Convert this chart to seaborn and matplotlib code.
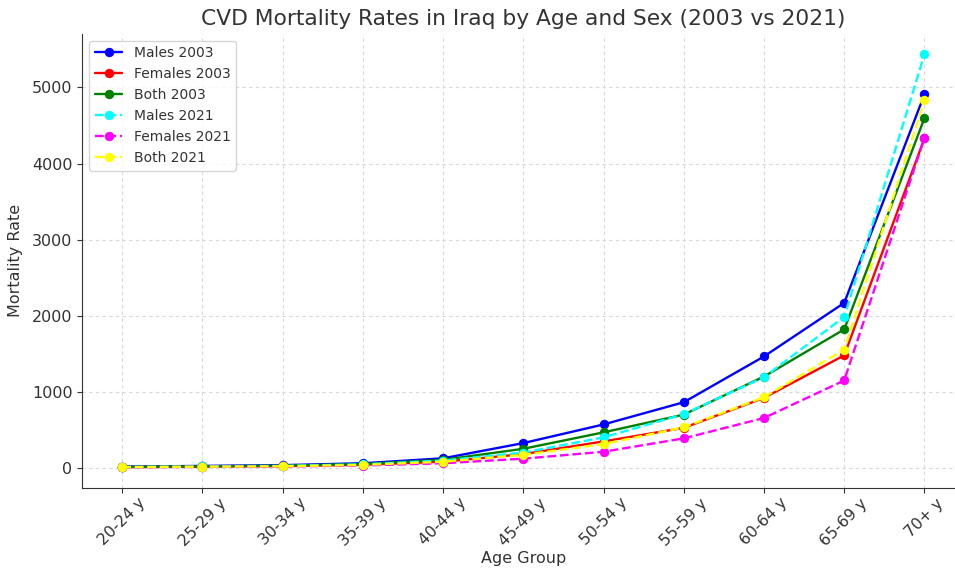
import pandas as pd
import seaborn as sns
import matplotlib.pyplot as plt

# faixas etarias
idades = ["20-24 y", "25-29 y", "30-34 y", "35-39 y", "40-44 y", "45-49 y",
          "50-54 y", "55-59 y", "60-64 y", "65-69 y", "70+ y"]

homens_2003 = [15, 25, 35, 60, 125, 325, 570, 862, 1464, 2168, 4908]
mulheres_2003 = [9, 15, 22, 40, 80, 180, 347, 525, 920, 1478, 4330]
ambos_2003 = [12, 20, 28, 50, 105, 250, 466, 699, 1200, 1820, 4596]
homens_2021 = [10, 18, 25, 45, 95, 200, 400, 705, 1191, 1983, 5435]
mulheres_2021 = [7, 12, 18, 30, 60, 120, 211, 387, 655, 1148, 4336]
ambos_2021 = [8, 14, 20, 38, 80, 170, 312, 532, 927, 1552, 4833]

series = [
    ("Males 2003", homens_2003, "blue", "-"),
    ("Females 2003", mulheres_2003, "red", "-"),
    ("Both 2003", ambos_2003, "green", "-"),
    ("Males 2021", homens_2021, "cyan", "--"),
    ("Females 2021", mulheres_2021, "magenta", "--"),
    ("Both 2021", ambos_2021, "yellow", "--"),
]

sns.set_style("ticks", {"axes.grid": True, "grid.linestyle": (0, (3, 3)),
                        "grid.color": "#d8d8d8", "axes.edgecolor": "#333333",
                        "text.color": "#333333", "axes.labelcolor": "#333333",
                        "xtick.color": "#333333", "ytick.color": "#333333"})

fig = plt.figure(figsize=(9.55, 5.72), dpi=100)
ax = fig.add_axes([0.086, 0.147, 0.924, 0.794])

for nome, valores, cor, estilo in series:
    dados = pd.DataFrame({"Age Group": idades, "Mortality Rate": valores})
    sns.lineplot(data=dados, x="Age Group", y="Mortality Rate", ax=ax,
                 color=cor, linestyle=estilo, marker="o", markersize=6,
                 markeredgecolor=cor, linewidth=1.7, label=nome, sort=False)

ax.set_title("CVD Mortality Rates in Iraq by Age and Sex (2003 vs 2021)", fontsize=15.7)
ax.set_xlabel("Age Group", fontsize=11.5, labelpad=2)
ax.set_ylabel("Mortality Rate", fontsize=11.5, labelpad=6)
ax.tick_params(axis="x", labelrotation=45, labelsize=11.3, pad=2)
ax.tick_params(axis="y", labelsize=11.5)
for t in ax.get_xticklabels():
    t.set_ha("center")
ax.margins(x=0.05)
sns.despine(ax=ax)
ax.legend(loc="upper left", fontsize=10, frameon=True)

fig.savefig("out.png", dpi=100)
